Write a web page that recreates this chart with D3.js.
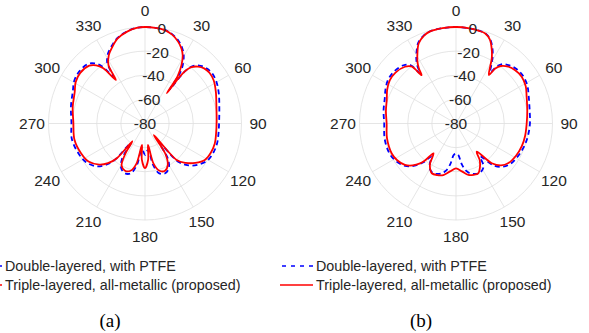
<!DOCTYPE html>
<html>
<head>
<meta charset="utf-8">
<script src="https://cdn.jsdelivr.net/npm/d3@7"></script>
<style>
  html, body { margin: 0; padding: 0; background: #fff; }
  svg { display: block; }
  text { font-family: "Liberation Sans", Arial, Helvetica, sans-serif; fill: #262626; }
</style>
</head>
<body>
<svg id="fig" width="589" height="333"></svg>
<script>
// Angular and radial tick values (degrees, dB)
const thetaTicks = [0, 30, 60, 90, 120, 150, 180, 210, 240, 270, 300, 330];
const rTicks = [-80, -60, -40, -20, 0];
const seriesNames = ["Double-layered, with PTFE", "Triple-layered, all-metallic (proposed)"];
const panelLabels = ["(a)", "(b)"];

// Panel (a): double-layered, with PTFE
const thetaA1 = [0,6,12,17,22,26,29,32,34.5,36,37.5,40,44,48,53,60,68,78,88,98,106,114,121,128,134,139,143,147,152,158,164,169,172.5,176,180,184,187.5,191,196,202,208,213,216,220,224,229,237,246,258,271,283,294,301,308,316,320,323,326,328,332,336,342,349,355];
const gainA1 = [0,-0.2,-0.7,-2.7,-6,-10,-14,-20,-28,-45,-25,-17.5,-13.5,-11.5,-10.5,-11.5,-14,-17,-18.5,-18.5,-18,-18.5,-20,-24.5,-30,-38,-60,-45,-38,-35.5,-37,-45,-58,-57,-54,-57,-58,-45,-37,-35.5,-38,-45,-60,-40,-32,-26,-21.5,-19.5,-18,-19,-17,-14.5,-11.5,-10.5,-11.5,-15,-20.5,-33,-21,-14.5,-10.8,-5.5,-2.2,-0.4];

// Panel (a): triple-layered, all-metallic
const thetaA2 = [0,6,12,17,22,26,29,32,34.5,35.8,37,39.5,43,47,52,58,66,76,88,98,106,114,121,128,134,139,142.5,146,151,157,163,168,172,175,180,185,188,192,197,203,209,213,215.5,219,223,228,236,245,257,271,283,294,301,308,316,320,323,326.2,328,332,336,342,349,355];
const gainA2 = [0,-0.2,-0.8,-3,-6.8,-11,-15.5,-23,-32,-49,-28,-19.5,-15.5,-13,-12,-12.8,-15.7,-19,-20.6,-20.5,-19.8,-20.3,-21.8,-27,-33,-40,-68,-50,-41,-37.5,-39,-46,-62,-50,-43,-50,-62,-46,-39,-37.5,-40,-50,-62,-43,-35,-29,-23.5,-21.5,-20,-20.6,-18.5,-16.2,-13,-11.9,-13.4,-17,-22.6,-36.6,-22.8,-16,-11.9,-6,-2.4,-0.5];

// Panel (b): double-layered, with PTFE
const thetaB1 = [0,8,14,18,22,26,29,31,34,35.5,38,42.6,48,54.5,62,69,80,90,100,109,118,127,133,138,143.7,147,151,155.5,160,164,168,172,176,180,184,188,192,196,200,204.5,209,213,216.3,220,223,227,232,239,246,258,270,280,289,296,303,310,318,322,324.5,326,328,331,335,340,344,352];
const gainB1 = [0,-0.3,-0.7,-1.3,-4.5,-11,-17.5,-23,-29,-22,-17.5,-14.5,-12.5,-11.8,-13,-15.5,-18,-18.7,-19.5,-20.5,-22,-24,-27.5,-33,-46,-38,-35.5,-34.6,-35.5,-37,-40,-46,-54,-55,-54,-46,-40,-37,-35.5,-34.6,-36,-40,-46,-38,-33,-28,-24,-21,-19.5,-19.5,-20.5,-19,-17.5,-15,-13,-13,-15,-18.5,-29,-23,-18,-12.5,-6,-2.2,-0.7,-0.2];

// Panel (b): triple-layered, all-metallic
const thetaB2 = [0,8,14,18,22,26,29,31,34.2,35.5,38,42.6,48,54.5,62,69,80,90,100,109,118,127,133,138,143.7,147,151,156,161,166.5,173,180,187,193.8,200,206,210,213,217,220,222,226,231,238,245,258,270,280,289,296,303,310,318,322,324.5,326,328,331,335,340,344,352];
const gainB2 = [0,-0.3,-0.8,-1.5,-5,-12.3,-19,-25,-31.4,-24,-19.5,-16,-14,-13.1,-14.5,-17.3,-20,-21.4,-21.8,-22.3,-23.5,-25.5,-29,-35.7,-51,-44,-39,-34.7,-35,-36.1,-40,-42.8,-40,-36,-34.5,-34.1,-37,-40.6,-49,-40,-35.5,-30,-25.5,-22.5,-21.2,-21.5,-22.5,-21,-19.3,-16.5,-14.5,-14.5,-16.7,-20,-30.8,-25,-19.7,-14,-6.8,-2.5,-0.8,-0.2];

const panels = [
  { cx: 145, cy: 123.5, label: panelLabels[0],
    series: [ { theta: thetaA1, gain: gainA1 }, { theta: thetaA2, gain: gainA2 } ] },
  { cx: 456, cy: 123.5, label: panelLabels[1],
    series: [ { theta: thetaB1, gain: gainB1 }, { theta: thetaB2, gain: gainB2 } ] }
];

const styles = [
  { stroke: "#0000ff", dash: "5,3.5", width: 1.8 },
  { stroke: "#ff0000", dash: null, width: 1.8 }
];

const R = 96.5;
const rScale = d3.scaleLinear().domain([-80, 0]).range([0, R]).clamp(true);
const toRad = d => d * Math.PI / 180;

const svg = d3.select("#fig");

panels.forEach(p => {
  const g = svg.append("g").attr("transform", `translate(${p.cx},${p.cy})`);

  // grid rings
  g.selectAll("circle.ring")
    .data(rTicks.filter(v => v > -80))
    .join("circle")
    .attr("class", "ring")
    .attr("r", d => rScale(d))
    .attr("fill", "none")
    .attr("stroke", "#dedede")
    .attr("stroke-width", 0.8);

  // spokes
  g.selectAll("line.spoke")
    .data(thetaTicks)
    .join("line")
    .attr("class", "spoke")
    .attr("x1", 0).attr("y1", 0)
    .attr("x2", d => R * Math.sin(toRad(d)))
    .attr("y2", d => -R * Math.cos(toRad(d)))
    .attr("stroke", "#dedede")
    .attr("stroke-width", 0.8);

  // pattern curves
  const radial = d3.lineRadial()
    .angle(d => toRad(d[0]))
    .radius(d => rScale(d[1]))
    .curve(d3.curveCatmullRomClosed.alpha(0.5));

  p.series.forEach((s, i) => {
    const pts = s.theta.map((t, k) => [t, s.gain[k]]);
    g.append("path")
      .attr("d", radial(pts))
      .attr("fill", "none")
      .attr("stroke", styles[i].stroke)
      .attr("stroke-width", styles[i].width)
      .attr("stroke-dasharray", styles[i].dash)
      .attr("stroke-linejoin", "round");
  });

  // angle labels
  const rl = 113;
  g.selectAll("text.theta")
    .data(thetaTicks)
    .join("text")
    .attr("class", "theta")
    .attr("x", d => rl * Math.sin(toRad(d)))
    .attr("y", d => -rl * Math.cos(toRad(d)))
    .attr("text-anchor", "middle")
    .attr("dominant-baseline", "central")
    .style("font-size", "15.5px")
    .text(d => d);

  // radial labels along the 10° direction
  g.selectAll("text.rlab")
    .data(rTicks)
    .join("text")
    .attr("class", "rlab")
    .attr("x", d => rScale(d) * Math.sin(toRad(10)))
    .attr("y", d => -rScale(d) * Math.cos(toRad(10)))
    .attr("text-anchor", "middle")
    .attr("dominant-baseline", "central")
    .style("font-size", "15.5px")
    .text(d => d);

  // legend (samples drawn right-to-left so the dash pattern starts at the text side)
  const lg = svg.append("g").attr("transform", `translate(${p.cx},0)`);
  seriesNames.forEach((name, i) => {
    const y = 266 + i * 19;
    lg.append("line")
      .attr("x1", -143).attr("x2", -176)
      .attr("y1", y).attr("y2", y)
      .attr("stroke", styles[i].stroke)
      .attr("stroke-width", 1.5)
      .attr("stroke-dasharray", i === 0 ? "4,5" : null);
    lg.append("text")
      .attr("x", -140).attr("y", y)
      .attr("dominant-baseline", "central")
      .style("font-size", "14.3px")
      .text(name);
  });

  // panel caption
  svg.append("text")
    .attr("x", p.cx - 35).attr("y", 320)
    .attr("text-anchor", "middle")
    .attr("dominant-baseline", "central")
    .style("font-family", "'Liberation Serif', 'Times New Roman', serif")
    .style("font-size", "19px")
    .style("fill", "#000")
    .text(p.label);
});
</script>
</body>
</html>
